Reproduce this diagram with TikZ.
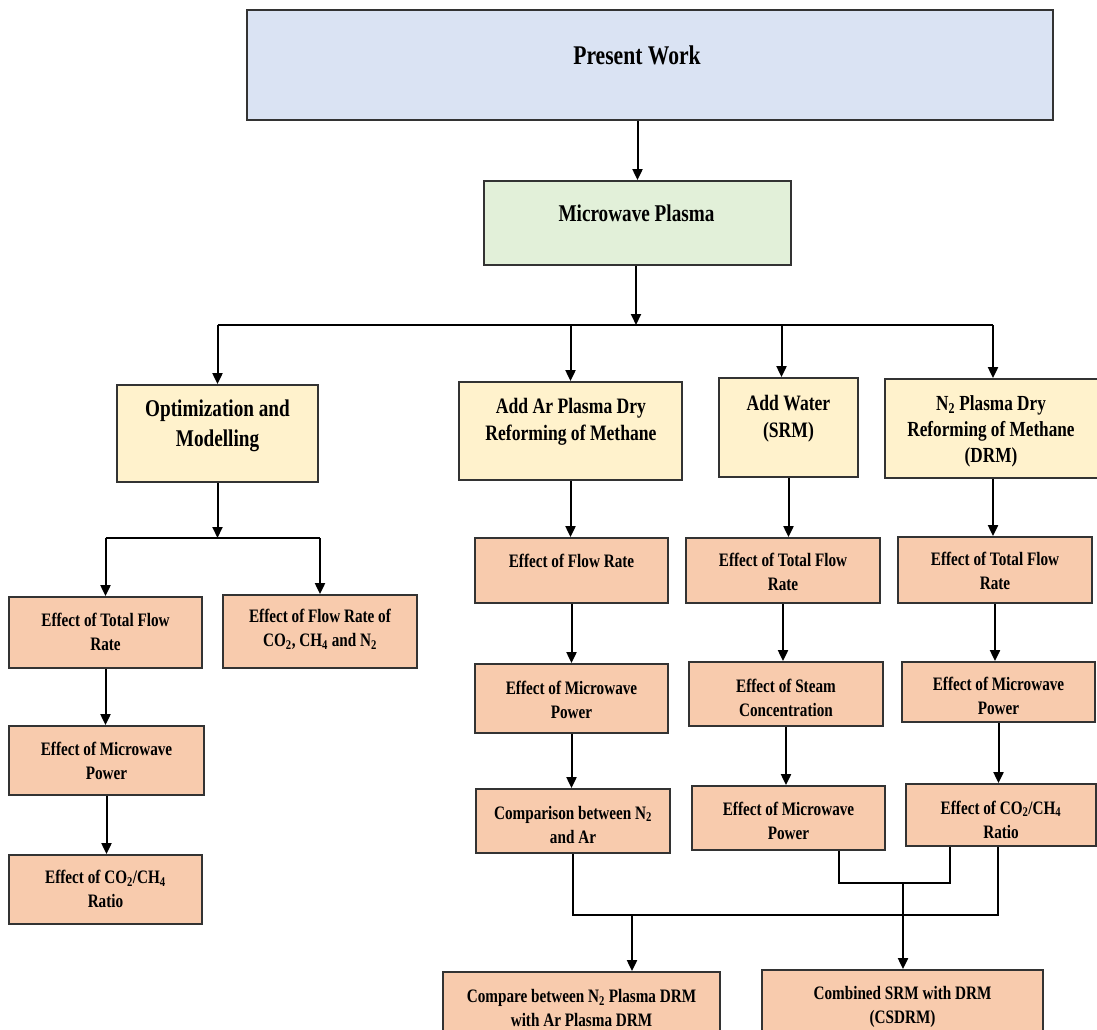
\documentclass[tikz,border=0pt]{standalone}
\usepackage{fontspec}
\setmainfont{Liberation Serif}[FakeStretch=0.8]
\usetikzlibrary{arrows.meta}

\definecolor{bluefill}{HTML}{DAE3F3}
\definecolor{greenfill}{HTML}{E2F0D9}
\definecolor{yellowfill}{HTML}{FFF2CC}
\definecolor{orangefill}{HTML}{F8CBAD}
\definecolor{edge}{HTML}{333333}

\tikzset{
  box/.style={draw=edge, line width=1.8pt, inner sep=0pt},
  bluebox/.style={box, fill=bluefill},
  greenbox/.style={box, fill=greenfill},
  yellowbox/.style={box, fill=yellowfill},
  orangebox/.style={box, fill=orangefill},
  txt/.style={align=center, inner sep=0pt, font=\bfseries\fontsize{19}{24}\selectfont},
  ytxt/.style={txt, font=\bfseries\fontsize{22}{27}\selectfont},
  wire/.style={line width=2pt, black},
  arr/.style={wire, -{Triangle[length=11pt,width=10pt]}},
}

\begin{document}
\begin{tikzpicture}[x=1pt, y=-1pt]
\useasboundingbox (0,0) rectangle (1097,1030);
\clip (0,0) rectangle (1097,1030);

% top level
\node[bluebox, minimum width=806pt, minimum height=110pt] (pw) at (650,65) {};
\node[txt, font=\bfseries\fontsize{27}{30}\selectfont] (pwt) at (637,55) {Present Work};

\node[greenbox, minimum width=307pt, minimum height=84pt] (mp) at (637.5,223) {};
\node[txt, font=\bfseries\fontsize{24}{28}\selectfont] (mpt) at (636.5,213) {Microwave Plasma};

% second level
\node[yellowbox, minimum width=201pt, minimum height=97pt] (opt) at (217.5,433.5) {};
\node[ytxt, font=\bfseries\fontsize{24}{30}\selectfont] (optt) at (217.5,426) {Optimization and\\Modelling};

\node[yellowbox, minimum width=223pt, minimum height=98pt] (ar) at (570.5,431) {};
\node[ytxt] (art) at (571,422) {Add Ar Plasma Dry\\Reforming of Methane};

\node[yellowbox, minimum width=139pt, minimum height=99pt] (wat) at (788.5,427.5) {};
\node[ytxt] (watt) at (788.5,419) {Add Water\\(SRM)};

\node[yellowbox, minimum width=216pt, minimum height=99pt] (n2) at (993,428.5) {};
\node[ytxt, font=\bfseries\fontsize{21.5}{26}\selectfont] (n2t) at (991,431) {N\textsubscript{2} Plasma Dry\\Reforming of Methane\\(DRM)};

% optimization branch
\node[orangebox, minimum width=193pt, minimum height=71pt] (ltf) at (105.5,632.5) {};
\node[txt] (ltft) at (105.5,632) {Effect of Total Flow\\Rate};

\node[orangebox, minimum width=194pt, minimum height=73pt] (lfr) at (320,631.5) {};
\node[txt] (lfrt) at (320,629.5) {Effect of Flow Rate of\\CO\textsubscript{2}, CH\textsubscript{4} and N\textsubscript{2}};

\node[orangebox, minimum width=195pt, minimum height=69pt] (lmw) at (106.5,760.5) {};
\node[txt] (lmwt) at (106.5,761) {Effect of Microwave\\Power};

\node[orangebox, minimum width=193pt, minimum height=69pt] (lrt) at (105.5,889.5) {};
\node[txt] (lrtt) at (105.5,889) {Effect of CO\textsubscript{2}/CH\textsubscript{4}\\Ratio};

% Ar branch
\node[orangebox, minimum width=193pt, minimum height=65pt] (afr) at (571.5,570.5) {};
\node[txt] (afrt) at (571.5,561) {Effect of Flow Rate};

\node[orangebox, minimum width=193pt, minimum height=69pt] (amw) at (571.5,698.5) {};
\node[txt] (amwt) at (571.5,700) {Effect of Microwave\\Power};

\node[orangebox, minimum width=194pt, minimum height=64pt] (acm) at (573,821) {};
\node[txt] (acmt) at (573,824.5) {Comparison between N\textsubscript{2}\\and Ar};

% water branch
\node[orangebox, minimum width=194pt, minimum height=65pt] (wtf) at (783,570.5) {};
\node[txt] (wtft) at (783,572) {Effect of Total Flow\\Rate};

\node[orangebox, minimum width=194pt, minimum height=64pt] (wsc) at (786,694) {};
\node[txt] (wsct) at (786,698) {Effect of Steam\\Concentration};

\node[orangebox, minimum width=193pt, minimum height=64pt] (wmw) at (788.5,818) {};
\node[txt] (wmwt) at (788.5,821) {Effect of Microwave\\Power};

% N2 branch
\node[orangebox, minimum width=194pt, minimum height=66pt] (ntf) at (995,570) {};
\node[txt] (ntft) at (995,570.5) {Effect of Total Flow\\Rate};

\node[orangebox, minimum width=193pt, minimum height=60pt] (nmw) at (998.5,692) {};
\node[txt] (nmwt) at (998.5,696) {Effect of Microwave\\Power};

\node[orangebox, minimum width=190pt, minimum height=62pt] (nrt) at (1001,815) {};
\node[txt] (nrtt) at (1001,819.5) {Effect of CO\textsubscript{2}/CH\textsubscript{4}\\Ratio};

% bottom results
\node[orangebox, minimum width=277pt, minimum height=88pt] (cmpd) at (581.5,1016) {};
\node[txt] (cmpdt) at (581.5,1008) {Compare between N\textsubscript{2} Plasma DRM\\with Ar Plasma DRM};

\node[orangebox, minimum width=281pt, minimum height=88pt] (csd) at (902.5,1014) {};
\node[txt] (csdt) at (902.5,1007) {Combined SRM with DRM\\(CSDRM)};

% junction points
\coordinate (hb) at (636,325);
\coordinate (lb) at (217.5,538);
\coordinate (j1) at (903,883);
\coordinate (j2) at (632,915);

% top connectors
\draw[arr] (mp.north |- pw.south) -- (mp.north);
\draw[arr] (hb |- mp.south) -- (hb);
\draw[wire] (opt.north |- hb) -- (n2.north |- hb);
\draw[arr] (opt.north |- hb) -- (opt.north);
\draw[arr] (ar.north |- hb) -- (ar.north);
\draw[arr] ([xshift=-7pt]wat.north |- hb) -- ([xshift=-7pt]wat.north);
\draw[arr] (n2.north |- hb) -- (n2.north);

% optimization branch
\draw[arr] (opt.south) -- (lb);
\draw[wire] (ltf.north |- lb) -- (lfr.north |- lb);
\draw[arr] (ltf.north |- lb) -- (ltf.north);
\draw[arr] (lfr.north |- lb) -- (lfr.north);
\draw[arr] (ltf.south) -- (ltf.south |- lmw.north);
\draw[arr] (lmw.south) -- (lmw.south |- lrt.north);

% Ar branch
\draw[arr] (ar.south) -- (ar.south |- afr.north);
\draw[arr] (afr.south) -- (afr.south |- amw.north);
\draw[arr] (amw.south) -- (amw.south |- acm.north);

% water branch
\draw[arr] (wat.south) -- (wat.south |- wtf.north);
\draw[arr] (wtf.south) -- (wtf.south |- wsc.north);
\draw[arr] (wsc.south) -- (wsc.south |- wmw.north);

% N2 branch
\draw[arr] (n2.south) -- (n2.south |- ntf.north);
\draw[arr] (ntf.south) -- (ntf.south |- nmw.north);
\draw[arr] (nmw.south) -- (nmw.south |- nrt.north);

% merging lines
\draw[wire] ([xshift=50pt]wmw.south) |- (j1) -| ([xshift=-51pt]nrt.south);
\draw[wire] (acm.south) |- (j2) -| ([xshift=-3pt]nrt.south);
\draw[arr] (j1) -- (j1 |- csd.north);
\draw[arr] (j2) -- (j2 |- cmpd.north);
\end{tikzpicture}
\end{document}
